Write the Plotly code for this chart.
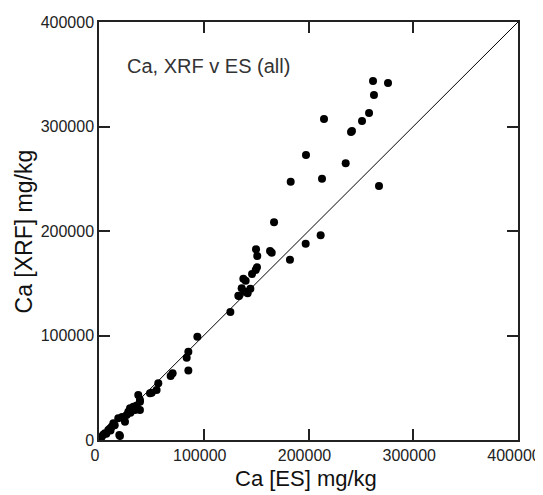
import plotly.graph_objects as go

# Ca by ES (x) and by XRF (y), mg/kg
ca_es = [261600, 275900, 262500, 257800, 251100, 241500, 240600, 214800, 197600,
         235500, 183000, 212900, 267300, 167100, 197300, 211600, 182300,
         149900, 151100, 163300, 164900, 150800, 149600, 146100, 137800, 140000,
         136200, 144500, 141900, 133000, 133700, 139000,
         125400, 93900, 85300, 83700, 85300, 70300, 68400, 56600, 55000, 48700,
         50300, 37500, 39100, 39100, 32800, 29600, 28000, 26400, 39100, 34400,
         24800, 18400, 19400, 20000, 13700, 12100, 10500, 8900, 5700, 2600, 300,
         15000, 22000, 30000, 36000, 7000, 4000, 1500, 1000, 11000]
ca_xrf = [343500, 341600, 330100, 312900, 305300, 295700, 294700, 307200, 272700,
          264800, 247200, 250100, 243100, 208300, 187900, 195900, 172600,
          182500, 176100, 180900, 179200, 165200, 162700, 158800, 154400, 152400,
          145100, 144800, 140400, 138100, 137800, 142000,
          122500, 98900, 84500, 78800, 66600, 63800, 61200, 54200, 47800, 44700,
          45300, 43100, 38300, 36600, 31900, 30300, 27100, 23900, 28700, 28700,
          17500, 20800, 4800, 3800, 16000, 12700, 11000, 9600, 6400, 3200, 700,
          14000, 22000, 26000, 33000, 6000, 5000, 2000, 800, 9000]

one_to_one = [0, 400000]
tick_vals = [0, 100000, 200000, 300000, 400000]
tick_text = ["0", "100000", "200000", "300000", "400000"]

font = "Liberation Sans, Arial"

fig = go.Figure()
fig.add_trace(go.Scatter(x=one_to_one, y=one_to_one, mode="lines",
                         line=dict(color="black", width=1), hoverinfo="skip"))
fig.add_trace(go.Scatter(x=ca_es, y=ca_xrf, mode="markers",
                         marker=dict(color="black", size=8)))

axis_style = dict(
    range=[0, 400000], tickvals=tick_vals, ticktext=tick_text,
    ticks="inside", ticklen=11, tickwidth=1.5, tickcolor="#222",
    showline=True, linecolor="#222", linewidth=1.5, mirror="ticks",
    showgrid=False, zeroline=False, automargin=False,
    ticklabeloverflow="allow",
    tickfont=dict(family=font, size=16, color="#222"),
)

# page body adds an 8px offset, so the figure is a bit smaller than the window
fig.update_layout(
    width=535, height=487,
    margin=dict(l=91, r=25, t=14, b=55),
    plot_bgcolor="white", paper_bgcolor="white",
    showlegend=False,
    xaxis=dict(axis_style, ticklabelshift=-4),
    yaxis=dict(axis_style),
    annotations=[
        dict(text="Ca, XRF v ES (all)", x=0.063, y=0.895,
             xref="paper", yref="paper", xanchor="left", yanchor="middle",
             showarrow=False, font=dict(family=font, size=20, color="#333")),
        dict(text="Ca [ES] mg/kg", x=0.495, y=-0.093,
             xref="paper", yref="paper", xanchor="center", yanchor="middle",
             showarrow=False, font=dict(family=font, size=22, color="#111")),
        dict(text="Ca [XRF] mg/kg", x=-0.179, y=0.499, textangle=-90,
             xref="paper", yref="paper", xanchor="center", yanchor="middle",
             showarrow=False, font=dict(family=font, size=23, color="#111")),
    ],
)

fig.write_html("out.html")
